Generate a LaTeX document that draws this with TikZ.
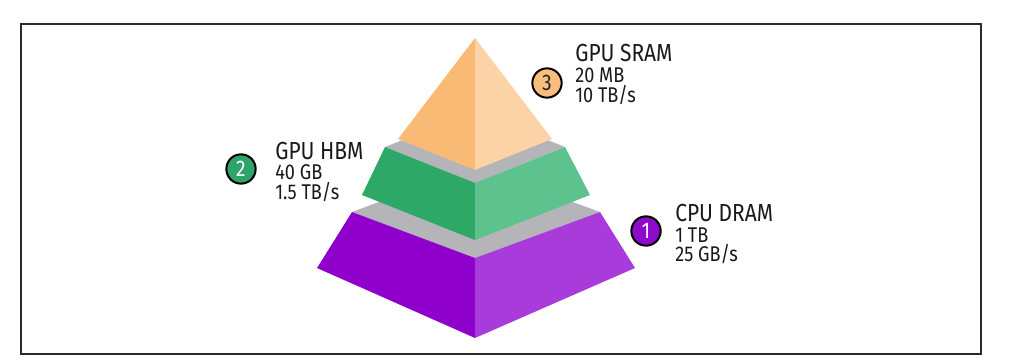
\documentclass[tikz,border=0pt]{standalone}
\usepackage{fontspec}
\setmainfont[FakeStretch=0.85]{Fira Sans}
\definecolor{orL}{HTML}{F9BA75}
\definecolor{orR}{HTML}{FCD3A6}
\definecolor{grL}{HTML}{2DA866}
\definecolor{grR}{HTML}{5DC28E}
\definecolor{puL}{HTML}{9000CC}
\definecolor{puR}{HTML}{A93BDB}
\definecolor{band}{HTML}{B5B4B9}
\definecolor{frame}{HTML}{2A2A2A}
\definecolor{orC}{HTML}{F9BE7E}
\definecolor{grC}{HTML}{2FA46A}
\definecolor{puC}{HTML}{8E0ACB}
\tikzset{
  bigtxt/.style={anchor=base west, inner sep=0pt, text height=13.5pt, text depth=1.5pt, font=\fontsize{18.5pt}{21pt}\selectfont, text=black!90},
  smalltxt/.style={anchor=base west, inner sep=0pt, text height=11.5pt, text depth=1.5pt, font=\fontsize{16pt}{18pt}\selectfont, text=black!90},
  badge/.style={circle, draw=black, line width=1.5pt, minimum size=22pt, inner sep=0pt, font=\fontsize{17pt}{19pt}\selectfont}
}
\begin{document}
\begin{tikzpicture}[x=0.75pt,y=-0.75pt]
\useasboundingbox (0,0) rectangle (1009,363);
\draw[frame, line width=1.3pt] (21,24) rectangle (981,354);
% purple layer
\fill[band] (352,212) -- (475,166) -- (600,212) -- (475,258) -- cycle;
\fill[puL] (352,212) -- (475,258) -- (475,338) -- (317,268) -- cycle;
\fill[puR] (475,258) -- (600,212) -- (635,268) -- (475,338) -- cycle;
% green layer
\fill[band] (385,147) -- (475,111) -- (565,147) -- (475,183) -- cycle;
\fill[grL] (385,147) -- (475,183) -- (475,240) -- (362,195) -- cycle;
\fill[grR] (475,183) -- (565,147) -- (590,195) -- (475,240) -- cycle;
% orange top
\fill[orL] (475,38) -- (475,170) -- (398,139) -- cycle;
\fill[orR] (475,38) -- (552,139) -- (475,170) -- cycle;
% labels
\node[badge, fill=orC, text=black!85] (b3) at (547,83) {3};
\node[bigtxt] (t3a) at (575,62) {GPU SRAM};
\node[smalltxt] (t3b) at (575,83) {20 MB};
\node[smalltxt] (t3c) at (575,103) {10 TB/s};
\node[badge, fill=grC, text=white] (b2) at (241,169) {2};
\node[bigtxt] (t2a) at (275,160) {GPU HBM};
\node[smalltxt] (t2b) at (275,180) {40 GB};
\node[smalltxt] (t2c) at (275,200) {1.5 TB/s};
\node[badge, fill=puC, text=white] (b1) at (646,231) {1};
\node[bigtxt] (t1a) at (675,222) {CPU DRAM};
\node[smalltxt] (t1b) at (675,243) {1 TB};
\node[smalltxt] (t1c) at (675,262) {25 GB/s};
\end{tikzpicture}
\end{document}
